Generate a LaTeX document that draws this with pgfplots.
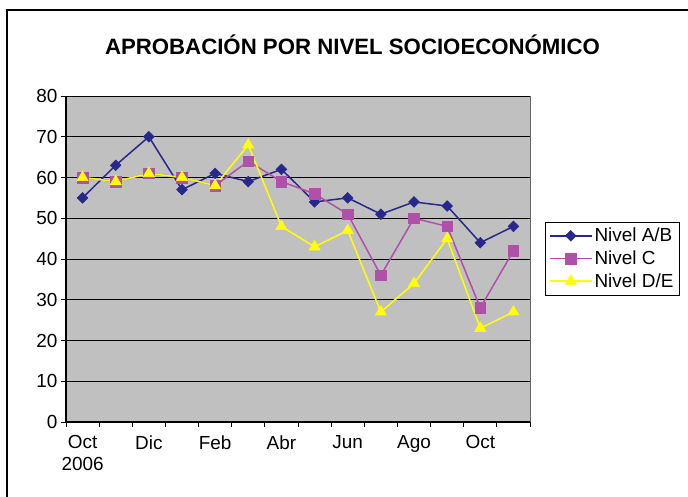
\documentclass[border=0pt]{standalone}
\usepackage{fontspec}
\setmainfont{Liberation Sans}
\usepackage{pgfplots}
\pgfplotsset{compat=1.18}
\definecolor{ab}{RGB}{40,40,140}
\definecolor{cc}{RGB}{176,80,168}
\definecolor{de}{RGB}{255,255,0}
\definecolor{bg}{RGB}{192,192,192}
\begin{document}
\begin{tikzpicture}[x=1bp,y=1bp]
\path[use as bounding box] (0,0) rectangle (688,497);
\draw[line width=1.2bp] (7,-10) -- (7,487) -- (700,487);
\node[font=\fontsize{22.3}{26}\selectfont\bfseries] at (352.5,452.5) {APROBACIÓN POR NIVEL SOCIOECONÓMICO};
\begin{axis}[
  at={(66bp,75bp)}, anchor=south west, scale only axis,
  width=464bp, height=326bp,
  xmin=-0.5, xmax=13.5, ymin=0, ymax=80,
  axis background/.style={fill=bg},
  axis x line*=bottom, axis y line*=left,
  axis line style={line width=1.2bp, black},
  tick align=outside,
  major tick length=5bp, minor tick length=5bp,
  xtick={0,2,...,12},
  xticklabels={{Oct\\2006},Dic,Feb,Abr,Jun,Ago,Oct},
  xticklabel style={align=center, font=\fontsize{19}{22}\selectfont, yshift=-5bp},
  minor xtick={-0.5,0.5,...,13.5},
  every major x tick/.append style={draw=none},
  every minor x tick/.append style={black, line width=0.8bp},
  every major y tick/.append style={black, line width=0.8bp},
  ytick={0,10,...,80},
  yticklabel style={font=\fontsize{19}{19}\selectfont},
  /pgf/number format/assume math mode=true,
  ymajorgrids, major grid style={black, line width=0.8bp},
  clip=false,
  legend style={at={(axis description cs:1.032,0.6135)}, anchor=north west,
    draw=black, fill=white, font=\fontsize{19}{22}\selectfont, row sep=3.5bp,
    inner xsep=4bp, inner ysep=4bp},
  legend cell align=left,
  legend image code/.code={\draw[mark repeat=2,mark phase=2,#1] plot coordinates {(0bp,0bp)(21bp,0bp)(42bp,0bp)};},
]
\addplot[ab, line width=1.5bp, mark=square*, mark size=3.8bp, mark options={rotate=45, fill=ab, draw=ab, line width=0.5bp}]
  coordinates {(0,55)(1,63)(2,70)(3,57)(4,61)(5,59)(6,62)(7,54)(8,55)(9,51)(10,54)(11,53)(12,44)(13,48)};
\addlegendentry{Nivel A/B}
\addplot[cc, line width=1.5bp, mark=square*, mark size=5.3bp, mark options={fill=cc, draw=cc, line width=0.5bp}]
  coordinates {(0,60)(1,59)(2,61)(3,60)(4,58)(5,64)(6,59)(7,56)(8,51)(9,36)(10,50)(11,48)(12,28)(13,42)};
\addlegendentry{Nivel C}
\addplot[de, line width=1.5bp, mark=triangle*, mark size=6.5bp, mark options={fill=de, draw=de, line width=0.5bp}]
  coordinates {(0,60)(1,59)(2,61)(3,60)(4,58)(5,68)(6,48)(7,43)(8,47)(9,27)(10,34)(11,45)(12,23)(13,27)};
\addlegendentry{Nivel D/E}
\draw[black!60, line width=1bp] (rel axis cs:1,0) -- (rel axis cs:1,1);
\end{axis}
\end{tikzpicture}
\end{document}
